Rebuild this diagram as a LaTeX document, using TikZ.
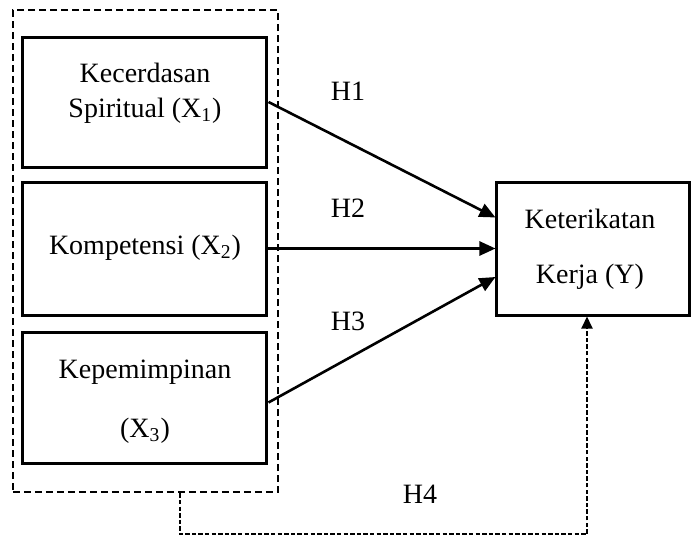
\documentclass[tikz,border=0pt]{standalone}
\usepackage{fontspec}
\setmainfont{Liberation Serif}
\usetikzlibrary{arrows.meta}

\tikzset{
    varbox/.style={draw, line width=1.5pt, minimum width=122pt, inner sep=0pt},
    hyparrow/.style={-{Triangle[length=8pt,width=7pt]}, line width=1.3pt},
    hlabel/.style={anchor=base},
}

\begin{document}
\begin{tikzpicture}[x=0.5pt, y=-0.5pt, font=\fontsize{14}{16}\selectfont]
        \useasboundingbox (0,0) rectangle (693,536);

        % independent variables and their dashed frame
        \node[draw, dash pattern=on 3.5pt off 2pt, line width=1.4pt, minimum width=132.5pt, minimum height=241pt] (grp) at (145.5,251) {};
        \node[varbox, minimum height=65pt] (x1) at (145,102) {};
        \node[varbox, minimum height=66.5pt] (x2) at (145,248.5) {};
        \node[varbox, minimum height=65.5pt] (x3) at (145,397.5) {};

        % dependent variable
        \node[draw, line width=1.5pt, minimum width=96.5pt, minimum height=66.5pt, inner sep=0pt] (y) at (593.5,248.5) {};

        % box texts
        \node[hlabel] (t1a) at (145,82) {Kecerdasan};
        \node[hlabel] (t1b) at (145,117) {Spiritual (X\textsubscript{1})};
        \node[hlabel] (t2) at (145,254) {Kompetensi (X\textsubscript{2})};
        \node[hlabel] (t3a) at (145,378) {Kepemimpinan};
        \node[hlabel] (t3b) at (145,437) {(X\textsubscript{3})};
        \node[hlabel] (tya) at (590,228) {Keterikatan};
        \node[hlabel] (tyb) at (590,283) {Kerja (Y)};

        % hypotheses
        \draw[hyparrow] (x1.east) -- ([yshift=15.5pt]y.west);
        \draw[hyparrow] (x2.east) -- (y.west);
        \draw[hyparrow] ([yshift=-2.5pt]x3.east) -- ([yshift=-14.25pt]y.west);
        \draw[-{Triangle[length=6pt,width=5.5pt]}, line width=1pt, dash pattern=on 2.2pt off 1.1pt]
            ([xshift=17.25pt]grp.south) -- ++(0,41) -| ([xshift=-3.25pt]y.south);

        \node[hlabel] (h1) at (348,100) {H1};
        \node[hlabel] (h2) at (348,217) {H2};
        \node[hlabel] (h3) at (348,330) {H3};
        \node[hlabel] (h4) at (420,503) {H4};
    \end{tikzpicture}
\end{document}
